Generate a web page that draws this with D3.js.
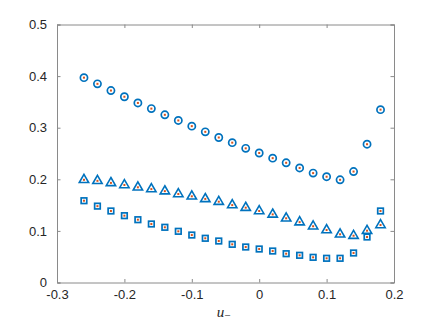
<!DOCTYPE html>
<html>
<head>
<meta charset="utf-8">
<script src="https://cdn.jsdelivr.net/npm/d3@7"></script>
<style>
  body { margin: 0; background: #fff; }
  svg { display: block; }
</style>
</head>
<body>
<svg id="chart"></svg>
<script>
// values
var uMinus = [-0.26, -0.24, -0.22, -0.20, -0.18, -0.16, -0.14, -0.12, -0.10, -0.08, -0.06, -0.04,
              -0.02, 0.00, 0.02, 0.04, 0.06, 0.08, 0.10, 0.12, 0.14, 0.16, 0.18]
var circleVals = [0.397, 0.385, 0.372, 0.360, 0.348, 0.337, 0.325, 0.314, 0.303, 0.292, 0.281, 0.271,
                  0.260, 0.251, 0.241, 0.232, 0.222, 0.212, 0.205, 0.199, 0.215, 0.268, 0.335]
var triangleVals = [0.199, 0.197, 0.193, 0.189, 0.1845, 0.181, 0.177, 0.1715, 0.167, 0.162, 0.1566, 0.150,
                    0.145, 0.1386, 0.132, 0.1244, 0.117, 0.109, 0.1017, 0.0934, 0.0907, 0.1004, 0.1114]
var squareVals = [0.1585, 0.148, 0.1386, 0.1295, 0.1217, 0.1134, 0.107, 0.0992, 0.092, 0.0857, 0.0804, 0.074,
                  0.0688, 0.0649, 0.061, 0.0558, 0.0527, 0.0488, 0.0469, 0.0469, 0.0572, 0.0882, 0.1386]
var xTicks = [-0.3, -0.2, -0.1, 0, 0.1, 0.2]
var yTicks = [0, 0.1, 0.2, 0.3, 0.4, 0.5]

var width = 436
var height = 327
var margin = {left: 57, right: 42, top: 24.5, bottom: 44.5}

var blue = "#0072BD"
var orange = "#D95319"
var axisColor = "#8a8a8a"
var textColor = "#262626"

var svg = d3.select("#chart")
    .attr("width", width)
    .attr("height", height)

var x = d3.scaleLinear().domain([-0.3, 0.2]).range([margin.left, width - margin.right])
var y = d3.scaleLinear().domain([0, 0.5]).range([height - margin.bottom, margin.top])

var tickLen = 3.5
// matlab style labels, plain hyphen for negatives
var fmt = d => d === 0 ? "0" : d3.format(".1f")(d).replace("\u2212", "-")

// box + ticks
var axes = svg.append("g")

axes.append("g")
    .attr("transform", "translate(0," + y(0) + ")")
    .call(d3.axisBottom(x).tickValues(xTicks).tickSize(-tickLen).tickPadding(7).tickFormat(fmt))
axes.append("g")
    .attr("transform", "translate(" + x(-0.3) + ",0)")
    .call(d3.axisLeft(y).tickValues(yTicks).tickSize(-tickLen).tickPadding(10).tickFormat(fmt))
axes.append("g")
    .attr("transform", "translate(0," + y(0.5) + ")")
    .call(d3.axisTop(x).tickValues(xTicks).tickSize(-tickLen).tickFormat(""))
axes.append("g")
    .attr("transform", "translate(" + x(0.2) + ",0)")
    .call(d3.axisRight(y).tickValues(yTicks).tickSize(-tickLen).tickFormat(""))

axes.selectAll(".domain").attr("stroke", axisColor)
axes.selectAll(".tick line").attr("stroke", axisColor)
axes.selectAll(".tick text").attr("fill", textColor).attr("font-size", 13)
    .attr("font-family", "'Liberation Sans', Arial, sans-serif")

// x label: u with subscript minus
var xl = svg.append("text")
    .attr("x", (x(-0.3) + x(0.2)) / 2 - 2)
    .attr("y", 316.5)
    .attr("text-anchor", "middle")
    .attr("font-family", "'Liberation Serif', 'DejaVu Serif', serif")
    .attr("fill", textColor)
xl.append("tspan").attr("font-style", "italic").attr("font-size", 15).text("u")
xl.append("tspan").attr("font-size", 11).attr("dy", 2.5).text("\u2212")

var pts = function(vals){
    return uMinus.map((u, i) => ({u: u, v: vals[i]}))
}

var marks = svg.append("g")

// circles
var gc = marks.append("g")
gc.selectAll("circle")
    .data(pts(circleVals))
    .enter()
    .append("circle")
    .attr("cx", d => x(d.u))
    .attr("cy", d => y(d.v))
    .attr("r", 3.6)
    .attr("fill", "none")
    .attr("stroke", blue)
    .attr("stroke-width", 1.7)

// triangles
var triSym = d3.symbol().type(d3.symbolTriangle).size(38)
var gt = marks.append("g")
gt.selectAll("path")
    .data(pts(triangleVals))
    .enter()
    .append("path")
    .attr("d", triSym)
    .attr("transform", d => "translate(" + x(d.u) + "," + y(d.v) + ")")
    .attr("fill", "none")
    .attr("stroke", blue)
    .attr("stroke-width", 1.6)

// squares
var gs = marks.append("g")
gs.selectAll("rect")
    .data(pts(squareVals))
    .enter()
    .append("rect")
    .attr("x", d => x(d.u) - 2.8)
    .attr("y", d => y(d.v) - 2.8)
    .attr("width", 5.6)
    .attr("height", 5.6)
    .attr("fill", "none")
    .attr("stroke", blue)
    .attr("stroke-width", 1.7)

// orange dots in every marker
var allPts = pts(circleVals).concat(pts(triangleVals), pts(squareVals))
marks.append("g").selectAll("rect")
    .data(allPts)
    .enter()
    .append("rect")
    .attr("x", d => x(d.u) - 1)
    .attr("y", d => y(d.v) - 1)
    .attr("width", 2)
    .attr("height", 2)
    .attr("fill", orange)
</script>
</body>
</html>
